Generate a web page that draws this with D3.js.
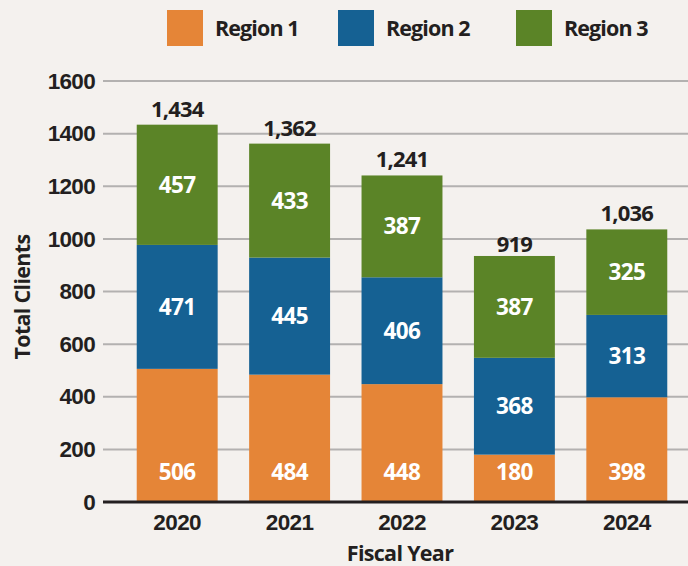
<!DOCTYPE html>
<html>
<head>
<meta charset="utf-8">
<script src="https://cdn.jsdelivr.net/npm/d3@7"></script>
<style>
  html, body { margin: 0; padding: 0; background: #f4f1ee; }
  svg { display: block; font-family: "Open Sans", "Noto Sans", sans-serif; }
  .tick text { font-weight: 700; }
</style>
</head>
<body>
<svg id="chart" width="688" height="566"></svg>
<script>
const years = ["2020", "2021", "2022", "2023", "2024"];
const region1 = [506, 484, 448, 180, 398];
const region2 = [471, 445, 406, 368, 313];
const region3 = [457, 433, 387, 387, 325];
const totals = [1434, 1362, 1241, 919, 1036];
const seriesNames = ["Region 1", "Region 2", "Region 3"];
const seriesColors = ["#e58537", "#156193", "#5b8427"];
const yTicks = [0, 200, 400, 600, 800, 1000, 1200, 1400, 1600];

const svg = d3.select("#chart");
const width = +svg.attr("width");
const height = +svg.attr("height");

const margin = { top: 81, right: 0, bottom: 64, left: 103 };

const x = d3.scaleBand()
    .domain(years)
    .range([121, 683])
    .paddingInner(0.28)
    .paddingOuter(0.14);

const y = d3.scaleLinear()
    .domain([0, 1600])
    .range([height - margin.bottom, margin.top]);

const rows = years.map((yr, i) => ({ year: yr, r1: region1[i], r2: region2[i], r3: region3[i], total: totals[i] }));
const stack = d3.stack().keys(["r1", "r2", "r3"]);
const layers = stack(rows);

// gridlines
svg.append("g")
    .selectAll("line")
    .data(yTicks.filter(d => d > 0))
    .enter().append("line")
    .attr("x1", margin.left)
    .attr("x2", width)
    .attr("y1", d => y(d))
    .attr("y2", d => y(d))
    .attr("stroke", "#b3b1b0")
    .attr("stroke-width", 2);

// y axis labels
const yAxis = d3.axisLeft(y).tickValues(yTicks).tickFormat(d3.format("d")).tickSize(0).tickPadding(8);
const yg = svg.append("g")
    .attr("transform", `translate(${margin.left},0)`)
    .call(yAxis);
yg.select(".domain").remove();
yg.selectAll("text")
    .attr("fill", "#231f20")
    .attr("font-size", 22.5)
    .attr("letter-spacing", -0.7);

// bars
const layerG = svg.append("g")
    .selectAll("g")
    .data(layers)
    .enter().append("g")
    .attr("fill", (d, i) => seriesColors[i]);

layerG.selectAll("rect")
    .data(d => d)
    .enter().append("rect")
    .attr("x", d => x(d.data.year))
    .attr("y", d => y(d[1]))
    .attr("width", x.bandwidth())
    .attr("height", d => y(d[0]) - y(d[1]));

// value labels inside bars
layerG.each(function(layer, li) {
    d3.select(this).selectAll("text")
        .data(layer)
        .enter().append("text")
        .attr("x", d => x(d.data.year) + x.bandwidth() / 2)
        .attr("y", d => li === 0 ? y(0) - 30 : (y(d[0]) + y(d[1])) / 2)
        .attr("dy", "0.36em")
        .attr("text-anchor", "middle")
        .attr("fill", "#ffffff")
        .attr("font-size", 22.5)
        .attr("font-weight", 700)
        .attr("letter-spacing", -0.6)
        .text(d => d[1] - d[0]);
});

// totals
svg.append("g")
    .selectAll("text")
    .data(rows)
    .enter().append("text")
    .attr("x", d => x(d.year) + x.bandwidth() / 2)
    .attr("y", d => y(d.total) - 8)
    .attr("text-anchor", "middle")
    .attr("fill", "#231f20")
    .attr("font-size", 22)
    .attr("font-weight", 700)
    .attr("letter-spacing", -0.8)
    .text(d => d3.format(",")(d.total));

// x axis
const xAxis = d3.axisBottom(x).tickSize(0).tickPadding(12);
const xg = svg.append("g")
    .attr("transform", `translate(0,${y(0)})`)
    .call(xAxis);
xg.select(".domain").remove();
xg.selectAll("text")
    .attr("fill", "#231f20")
    .attr("font-size", 22.5)
    .attr("letter-spacing", -0.6);

svg.append("line")
    .attr("x1", margin.left)
    .attr("x2", width)
    .attr("y1", y(0))
    .attr("y2", y(0))
    .attr("stroke", "#231f20")
    .attr("stroke-width", 3);

// axis titles
svg.append("text")
    .attr("x", 400)
    .attr("y", 561)
    .attr("text-anchor", "middle")
    .attr("fill", "#231f20")
    .attr("font-size", 21.5)
    .attr("font-weight", 700)
    .attr("letter-spacing", -0.7)
    .text("Fiscal Year");

svg.append("text")
    .attr("transform", "translate(30,297) rotate(-90)")
    .attr("text-anchor", "middle")
    .attr("fill", "#231f20")
    .attr("font-size", 21.5)
    .attr("font-weight", 700)
    .attr("letter-spacing", -0.7)
    .text("Total Clients");

// legend
const legendX = [167, 338, 516];
const legend = svg.append("g")
    .selectAll("g")
    .data(seriesNames)
    .enter().append("g")
    .attr("transform", (d, i) => `translate(${legendX[i]},10)`);
legend.append("rect")
    .attr("width", 36)
    .attr("height", 36)
    .attr("fill", (d, i) => seriesColors[i]);
legend.append("text")
    .attr("x", 48)
    .attr("y", 18)
    .attr("dy", "0.36em")
    .attr("fill", "#231f20")
    .attr("font-size", 21.5)
    .attr("font-weight", 700)
    .attr("letter-spacing", -0.9)
    .text(d => d);
</script>
</body>
</html>
